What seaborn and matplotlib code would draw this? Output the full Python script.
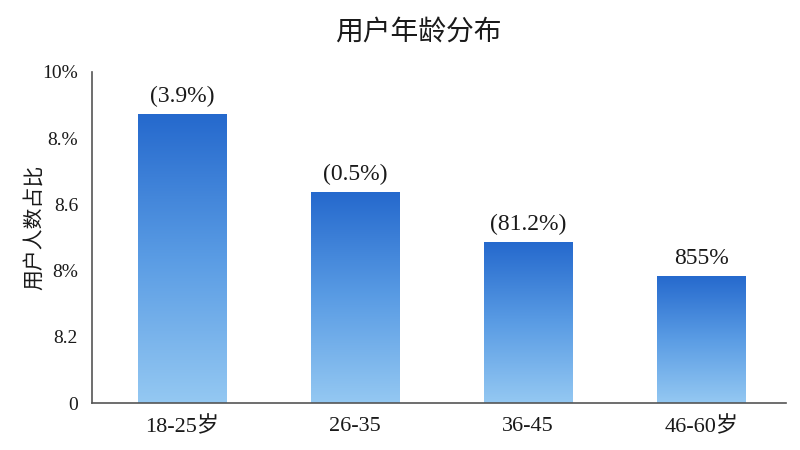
import numpy as np
import pandas as pd
import seaborn as sns
import matplotlib
matplotlib.use("Agg")
import matplotlib.pyplot as plt
from matplotlib.colors import LinearSegmentedColormap

# data
ages = ["18-25岁", "26-35", "36-45", "46-60岁"]
shares = [8.73, 6.37, 4.86, 3.84]
bar_labels = ["(3.9%)", "(0.5%)", "(81.2%)", "855%"]
ytick_vals = [0, 2, 4, 6, 8, 10]
ytick_text = ["0", "8.2", "8%", "8.6", "8.%", "10%"]

df = pd.DataFrame({"age": ages, "share": shares})

sns.set_theme(style="white")
serif = ["Liberation Serif", "Noto Sans CJK SC"]
sans = ["Noto Sans CJK SC", "DejaVu Sans"]
plt.rcParams["font.family"] = sans

fig = plt.figure(figsize=(8, 4.5), dpi=100)
ax = fig.add_axes([0.115, 0.1044, 0.8675, 0.7356])

sns.barplot(data=df, x="age", y="share", ax=ax, width=0.51,
            color="#4a8ede", saturation=1, linewidth=0)

# vertical gradient on each bar
cmap = LinearSegmentedColormap.from_list("blues", ["#94c8f2", "#5a9ce4", "#2569cd"])
grad = np.linspace(0, 1, 256).reshape(-1, 1)
for p in ax.patches:
    x0, y0 = p.get_x(), p.get_y()
    w, h = p.get_width(), p.get_height()
    im = ax.imshow(grad, cmap=cmap, origin="lower", aspect="auto",
                   extent=[x0, x0 + w, y0, y0 + h], zorder=p.get_zorder())
    im.set_clip_path(p)
    p.set_facecolor("none")

for i, (v, lab) in enumerate(zip(shares, bar_labels)):
    ax.text(i, v + 0.22, lab, ha="center", va="bottom",
            fontsize=17, family=serif, color="#1a1a1a")

ax.set_xlim(-0.52, 3.49)
ax.set_ylim(0, 10)
ax.set_yticks(ytick_vals)
ax.set_yticklabels(ytick_text, family=serif, fontsize=14, color="#1a1a1a")
ax.set_xticks(range(len(ages)))
ax.set_xticklabels(ages, family=serif, fontsize=16, color="#1a1a1a")
ax.tick_params(axis="y", pad=10, length=0)
ax.tick_params(axis="x", pad=10, length=0)

ax.set_xlabel("")
ax.set_ylabel("用户人数占比", fontsize=15, color="#1a1a1a")
ax.yaxis.set_label_coords(-0.068, 0.53)

sns.despine(ax=ax)
for s in ["left", "bottom"]:
    ax.spines[s].set_color("#555555")
    ax.spines[s].set_linewidth(1.2)

fig.text(0.523, 0.93, "用户年龄分布", ha="center", va="center",
         fontsize=20, color="#1a1a1a")

fig.savefig("out.png", dpi=100)
